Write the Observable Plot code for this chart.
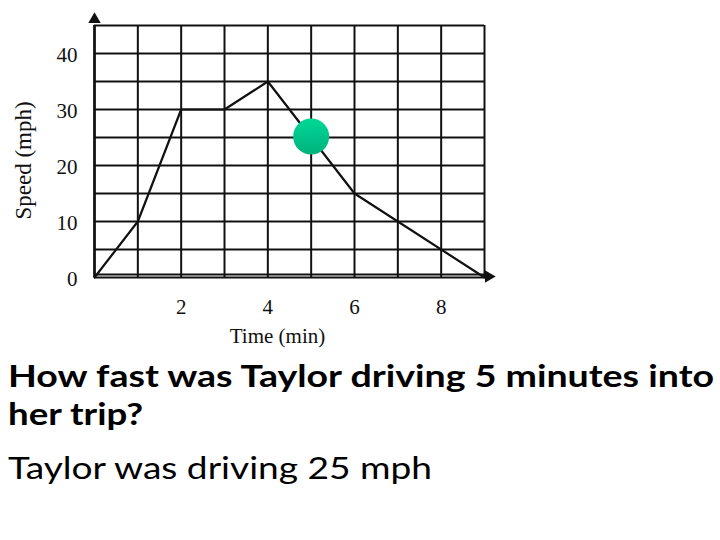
<!DOCTYPE html>
<html>
<head>
<meta charset="utf-8">
<script src="https://cdn.jsdelivr.net/npm/d3@7"></script>
<script src="https://cdn.jsdelivr.net/npm/@observablehq/plot@0.6"></script>
<style>
  html, body { margin: 0; padding: 0; background: white; }
  #page { position: relative; width: 720px; height: 540px; overflow: hidden; background: white; }
  #chart { position: absolute; left: 0; top: 0; }
  #caption { position: absolute; left: 0; top: 350px; }
</style>
</head>
<body>
<div id="page">
  <div id="chart"></div>
  <svg id="caption" width="720" height="190"></svg>
</div>
<script>
// ---- data ----
const times = [0, 1, 2, 3, 4, 6, 9];          // minutes
const speeds = [0, 10, 30, 30, 35, 15, 0];     // mph
const xDomain = [0, 9];
const yDomain = [0, 45];
const xGrid = [0, 1, 2, 3, 4, 5, 6, 7, 8, 9];
const yGrid = [0, 5, 10, 15, 20, 25, 30, 35, 40, 45];
const xTickLabels = [2, 4, 6, 8];
const yTickLabels = [0, 10, 20, 30, 40];
const highlightTime = [5];
const highlightSpeed = [25];
const xLabel = "Time (min)";
const yLabel = "Speed (mph)";
const questionLines = ["How fast was Taylor driving 5 minutes into", "her trip?"];
const answerLine = "Taylor was driving 25 mph";

const series = times.map((t, i) => ({t, speed: speeds[i]}));
const highlight = highlightTime.map((t, i) => ({t, speed: highlightSpeed[i]}));

const serif = "'Liberation Serif', 'Times New Roman', serif";
const ink = "#111";

const plot = Plot.plot({
  width: 720,
  height: 350,
  marginLeft: 94,
  marginRight: 236,
  marginTop: 25,
  marginBottom: 73,
  style: {fontFamily: serif, fontSize: "21px", background: "white", overflow: "visible", color: ink},
  x: {domain: xDomain, axis: null},
  y: {domain: yDomain, axis: null},
  marks: [
    // grid
    Plot.ruleX(xGrid, {y1: yDomain[0], y2: yDomain[1], stroke: ink, strokeWidth: 2}),
    Plot.ruleY(yGrid, {x1: xDomain[0], x2: xDomain[1], stroke: ink, strokeWidth: 2}),
    // axes with arrows
    Plot.ruleX([xDomain[0]], {y1: yDomain[0], y2: yDomain[1], stroke: ink, strokeWidth: 2.5}),
    Plot.ruleY([yDomain[0]], {x1: xDomain[0], x2: xDomain[1], dy: -3, stroke: ink, strokeWidth: 2}),
    Plot.dot([{x: xDomain[0], y: yDomain[1]}], {x: "x", y: "y", symbol: "triangle", r: 4.6, fill: ink, stroke: null, dy: -6}),
    Plot.dot([{x: xDomain[1], y: yDomain[0]}], {x: "x", y: "y", symbol: "triangle", r: 4.6, rotate: 90, fill: ink, stroke: null, dx: 4, dy: -1}),
    // the data line
    Plot.line(series, {x: "t", y: "speed", stroke: ink, strokeWidth: 2.2}),
    // highlight dot
    Plot.dot(highlight, {x: "t", y: "speed", r: 18, fill: "url(#dotGrad)", stroke: null, dy: -1}),
    // tick labels
    Plot.axisX({ticks: xTickLabels, tickSize: 0, tickPadding: 22, label: null, fontSize: 21, fontFamily: serif, fill: ink}),
    Plot.axisY({ticks: yTickLabels, tickSize: 0, tickPadding: 17, label: null, fontSize: 21, fontFamily: serif, fill: ink, dy: 2}),
    // axis titles
    Plot.text([yLabel], {frameAnchor: "left", textAnchor: "middle", lineAnchor: "middle", rotate: -90, dx: -71, dy: 9, fontSize: 23, fontFamily: serif, fill: ink}),
    Plot.text([xLabel], {frameAnchor: "bottom", textAnchor: "middle", lineAnchor: "middle", dx: -12, dy: 59, fontSize: 21, fontFamily: serif, fill: ink})
  ]
});

// gradient for the highlight dot
const svgSel = d3.select(plot);
const defs = svgSel.insert("defs", ":first-child");
const grad = defs.append("linearGradient").attr("id", "dotGrad").attr("x1", 0).attr("y1", 0).attr("x2", 0).attr("y2", 1);
grad.append("stop").attr("offset", "0%").attr("stop-color", "#00d898");
grad.append("stop").attr("offset", "100%").attr("stop-color", "#00b27c");

document.getElementById("chart").appendChild(plot);

// caption text
const cap = d3.select("#caption");
const sans = "Lato, 'Open Sans', sans-serif";
const qBase = [37, 75];
const qLen = [706, 135];
questionLines.forEach((line, i) => {
  cap.append("text")
    .attr("x", 8).attr("y", qBase[i])
    .attr("font-family", sans).attr("font-weight", 700).attr("font-size", 31)
    .attr("textLength", qLen[i]).attr("lengthAdjust", "spacingAndGlyphs")
    .attr("fill", "#000")
    .text(line);
});
cap.append("text")
  .attr("x", 8).attr("y", 129)
  .attr("font-family", sans).attr("font-weight", 400).attr("font-size", 30)
  .attr("textLength", 424).attr("lengthAdjust", "spacingAndGlyphs")
  .attr("fill", "#000")
  .text(answerLine);
</script>
</body>
</html>
